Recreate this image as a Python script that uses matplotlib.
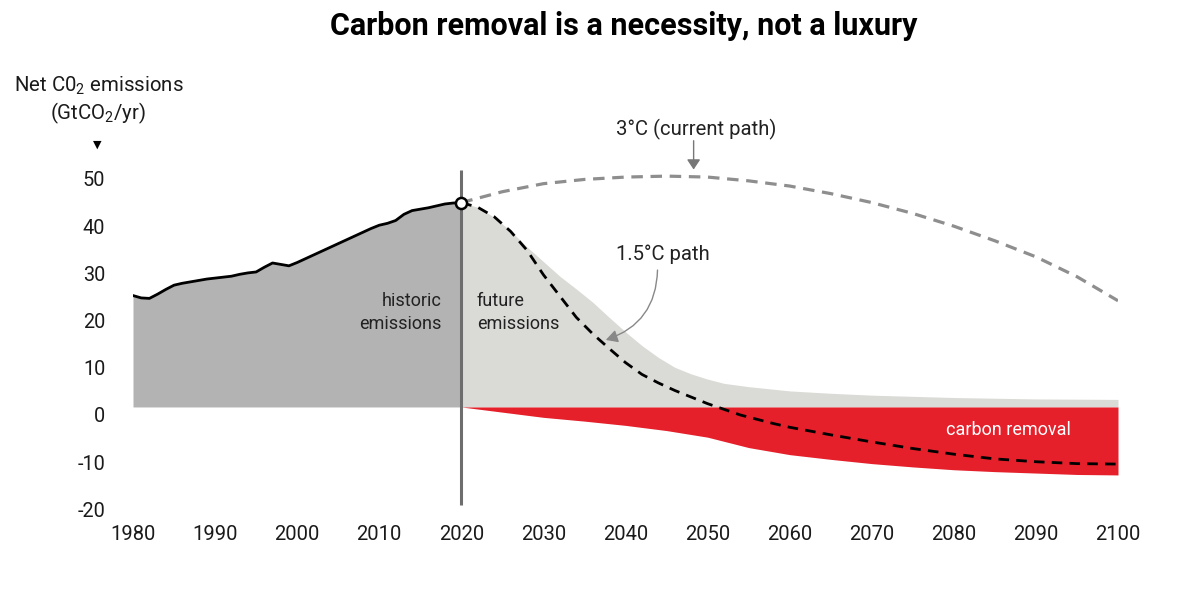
import matplotlib
matplotlib.use("Agg")
import matplotlib.pyplot as plt
import numpy as np

plt.rcParams['font.family'] = ['Roboto', 'DejaVu Sans']
plt.rcParams['mathtext.fontset'] = 'custom'
plt.rcParams['mathtext.rm'] = 'Roboto'
plt.rcParams['mathtext.it'] = 'Roboto'

# ---------------- data ----------------
hist_years = list(range(1980, 2021))
hist_vals = [23.6, 23.1, 23.0, 23.9, 24.9, 25.8, 26.2, 26.5, 26.8, 27.1,
             27.3, 27.5, 27.7, 28.1, 28.4, 28.6, 29.6, 30.5, 30.2, 29.9,
             30.6, 31.4, 32.2, 33.0, 33.8, 34.6, 35.4, 36.2, 37.0, 37.8,
             38.5, 38.9, 39.5, 40.8, 41.6, 41.9, 42.2, 42.6, 43.0, 43.2, 43.3]

future_years = [2020, 2022, 2024, 2026, 2028, 2030, 2032, 2034, 2036, 2038,
                2040, 2042, 2044, 2046, 2048, 2050, 2052, 2055, 2060, 2065,
                2070, 2080, 2090, 2100]
future_vals = [43.3, 42.3, 40.2, 37.3, 33.9, 30.8, 27.7, 25.0, 22.2, 19.0,
               15.9, 13.0, 10.5, 8.4, 7.0, 5.9, 5.0, 4.3, 3.4, 2.9,
               2.5, 2.0, 1.7, 1.6]

removal_years = [2020, 2025, 2030, 2035, 2040, 2045, 2050, 2055, 2060, 2065,
                 2070, 2075, 2080, 2085, 2090, 2095, 2100]
removal_vals = [0, -1.1, -2.2, -3.0, -3.9, -5.0, -6.4, -8.6, -10.1, -11.1,
                -12.0, -12.7, -13.3, -13.7, -14.0, -14.3, -14.4]

p15_years = [2020, 2022, 2024, 2026, 2028, 2030, 2032, 2034, 2036, 2038,
             2040, 2042, 2044, 2046, 2048, 2050, 2052, 2054, 2056, 2058,
             2060, 2065, 2070, 2075, 2080, 2085, 2090, 2095, 2100]
p15_vals = [43.3, 42.3, 40.3, 37.2, 33.2, 28.0, 23.5, 19.0, 15.5, 12.4,
            9.4, 6.9, 5.1, 3.5, 2.1, 0.7, -0.5, -1.7, -2.6, -3.5,
            -4.3, -5.9, -7.4, -8.8, -10.0, -11.0, -11.6, -12.0, -12.1]

p3_years = [2020, 2025, 2030, 2035, 2040, 2045, 2050, 2055, 2060, 2065,
            2070, 2075, 2080, 2085, 2090, 2095, 2100]
p3_vals = [43.3, 45.6, 47.3, 48.2, 48.7, 48.9, 48.7, 47.9, 46.8, 45.2,
           43.3, 41.0, 38.3, 35.2, 31.8, 27.6, 22.5]

x_ticks = [1980, 1990, 2000, 2010, 2020, 2030, 2040, 2050, 2060, 2070,
           2080, 2090, 2100]
y_tick_labels = [50, 40, 30, 20, 10, 0, -10, -20]
y_label_offset = -1.7   # tick labels sit slightly below the drawn baseline

# ---------------- styles ----------------
C_HIST = '#b3b3b3'
C_FUT = '#dadad6'
C_RED = '#e5202b'
C_P3 = '#8e8e8e'
C_VLINE = '#6e6e6e'
C_TEXT = '#1a1a1a'

W, H = 1200, 598
fig = plt.figure(figsize=(W / 100, H / 100), dpi=100)
ax_left, ax_right, ax_bottom, ax_top = 133, 1118, 512, 60
ax = fig.add_axes([ax_left / W, 1 - ax_bottom / H,
                   (ax_right - ax_left) / W, (ax_bottom - ax_top) / H])
ax.set_xlim(1980, 2100)
ax.set_ylim(-22.25, 73.5)
for s in ax.spines.values():
    s.set_visible(False)

# fills
ax.fill_between(hist_years, 0, hist_vals, color=C_HIST, lw=0, zorder=1)
ax.fill_between(future_years, 0, future_vals, color=C_FUT, lw=0, zorder=1)
ax.fill_between(removal_years, removal_vals, 0, color=C_RED, lw=0, zorder=1)

# lines
ax.plot(hist_years, hist_vals, color='black', lw=2.0, zorder=4,
        solid_joinstyle='round')
ax.plot(p3_years, p3_vals, color=C_P3, lw=2.3, dashes=(3.6, 2.4), zorder=3)
ax.plot(p15_years, p15_vals, color='black', lw=2.0, dashes=(3.8, 2.6), zorder=3)
ax.vlines(2020, -20.8, 50.2, color=C_VLINE, lw=2.2, zorder=5)
ax.plot([hist_years[-1]], [hist_vals[-1]], 'o', ms=8, mfc='white', mec='black',
        mew=1.8, zorder=6)

# ticks
ax.set_xticks(x_ticks)
ax.set_xticklabels([str(t) for t in x_ticks], fontsize=14.5, color=C_TEXT)
ax.set_yticks([v + y_label_offset for v in y_tick_labels])
ax.set_yticklabels([str(v) for v in y_tick_labels], fontsize=14.3, color=C_TEXT)
ax.tick_params(axis='x', length=0, pad=9)
ax.tick_params(axis='y', length=0, pad=20)

# annotations
ax.text(2017.6, 20.1, 'historic\nemissions', ha='right', va='center',
        fontsize=13, color='#222222', linespacing=1.35)
ax.text(2021.9, 20.1, 'future\nemissions', ha='left', va='center',
        fontsize=13, color='#222222', linespacing=1.35)
ax.text(2086.6, -4.9, 'carbon removal', ha='center', va='center',
        fontsize=13, color='white')
ax.text(2048.6, 58.7, '3°C (current path)', ha='center', va='center',
        fontsize=14.6, color='#222222')
ax.annotate('', xy=(2048.3, 50.3), xytext=(2048.3, 56.4),
            arrowprops=dict(arrowstyle='-|>,head_length=0.6,head_width=0.4',
                            color='#777777', lw=1.0, shrinkA=0, shrinkB=0))
ax.text(2044.5, 32.4, '1.5°C path', ha='center', va='center',
        fontsize=14.6, color='#222222')
ax.annotate('', xy=(2037.6, 14.2), xytext=(2043.9, 29.0),
            arrowprops=dict(arrowstyle='-|>,head_length=0.7,head_width=0.38',
                            connectionstyle='arc3,rad=-0.35',
                            color='#888888', lw=1.0, shrinkA=0, shrinkB=0))

# title and axis label
fig.text(624 / W, 1 - 26 / H, 'Carbon removal is a necessity, not a luxury',
         ha='center', va='center', fontsize=22, fontweight='bold', color='black')
fig.text(99 / W, 1 - 86 / H, r'Net C0$_2$ emissions', ha='center', va='center',
         fontsize=14.7, color=C_TEXT)
fig.text(98 / W, 1 - 113 / H, r'(GtCO$_2$/yr)', ha='center', va='center',
         fontsize=14.7, color=C_TEXT)
fig.text(97 / W, 1 - 145 / H, '▼', ha='center', va='center',
         fontsize=8, color='black', family=['DejaVu Sans'])

fig.savefig('out.png', dpi=100, facecolor='white')
